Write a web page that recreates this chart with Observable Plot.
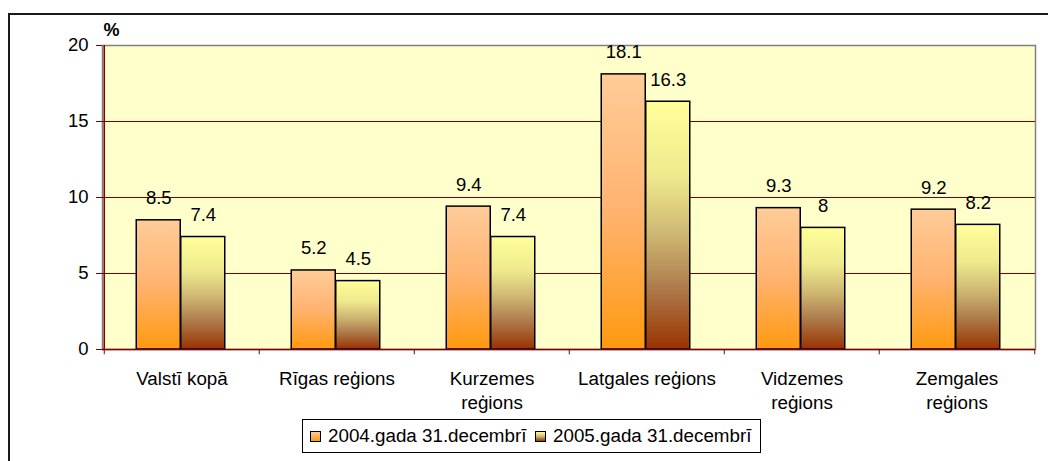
<!DOCTYPE html>
<html><head><meta charset="utf-8">
<script src="https://cdn.jsdelivr.net/npm/d3@7"></script>
<script src="https://cdn.jsdelivr.net/npm/@observablehq/plot@0.6"></script>
<style>
body{margin:0;background:#fff;font-family:"Liberation Sans",Arial,sans-serif;}
#wrap{position:relative;width:1048px;height:461px;overflow:hidden;background:#fff;}
#frame{position:absolute;left:8px;top:13px;width:1100px;height:600px;border:2px solid #1a1a1a;}
#chart{position:absolute;left:0;top:0;}
#legend{position:absolute;left:302px;top:419px;width:457px;height:32px;border:1px solid #000;background:#fff;font-size:18.8px;color:#000;}
.item{position:absolute;top:0;height:32px;line-height:32px;white-space:nowrap;}
.sw{position:absolute;width:9px;height:9px;border:1px solid #000;top:11px;}
</style></head>
<body>
<svg width="0" height="0" style="position:absolute">
  <defs>
    <linearGradient id="g2004" x1="0" y1="0" x2="0" y2="1">
      <stop offset="0" stop-color="#FFCC99"/>
      <stop offset="0.5" stop-color="#FFB370"/>
      <stop offset="1" stop-color="#FF990F"/>
    </linearGradient>
    <linearGradient id="g2005" x1="0" y1="0" x2="0" y2="1">
      <stop offset="0" stop-color="#FFFF99"/>
      <stop offset="0.3" stop-color="#EFEA8E"/>
      <stop offset="0.55" stop-color="#CCB470"/>
      <stop offset="0.75" stop-color="#AE7C4C"/>
      <stop offset="1" stop-color="#993300"/>
    </linearGradient>
  </defs>
</svg>
<div id="wrap">
  <div id="frame"></div>
  <div id="chart"></div>
  <div id="legend"></div>
</div>
<script>
const categories = ["Valstī kopā", "Rīgas reģions", "Kurzemes reģions", "Latgales reģions", "Vidzemes reģions", "Zemgales reģions"];
const categoryLabels = ["Valstī kopā", "Rīgas reģions", "Kurzemes\nreģions", "Latgales reģions", "Vidzemes\nreģions", "Zemgales\nreģions"];
const seriesNames = ["2004.gada 31.decembrī", "2005.gada 31.decembrī"];
const values2004 = [8.5, 5.2, 9.4, 18.1, 9.3, 9.2];
const values2005 = [7.4, 4.5, 7.4, 16.3, 8, 8.2];
const yTicks = [0, 5, 10, 15, 20];
const gridValues = [5, 10, 15];
const unitLabel = "%";

const data2004 = categories.map((c, i) => ({category: c, value: values2004[i]}));
const data2005 = categories.map((c, i) => ({category: c, value: values2005[i]}));
const labelOf = new Map(categories.map((c, i) => [c, categoryLabels[i]]));

const W = 1048, H = 461, ML = 102, MR = 13, MT = 45, MB = 112;
const band = (W - ML - MR) / categories.length;
const half = band / 2;
const barW = 44.5;
const font = "'Liberation Sans', Arial, sans-serif";

const chart = Plot.plot({
  width: W, height: H,
  marginLeft: ML, marginRight: MR, marginTop: MT, marginBottom: MB,
  style: {fontFamily: font, fontSize: "18px", background: "transparent", overflow: "visible", color: "#000"},
  x: {domain: categories, padding: 0},
  y: {domain: [0, 20]},
  marks: [
    Plot.frame({fill: "#FFFFCC", stroke: "#808080", strokeWidth: 1.5}),
    Plot.ruleY(gridValues, {stroke: "#800000", strokeWidth: 1}),
    Plot.barY(data2004, {x: "category", y: "value", fill: "url(#g2004)", stroke: "#000", strokeWidth: 1.5,
      insetLeft: half - barW - 1, insetRight: half + 1}),
    Plot.barY(data2005, {x: "category", y: "value", fill: "url(#g2005)", stroke: "#000", strokeWidth: 1.5,
      insetLeft: half - 1, insetRight: half - barW + 1}),
    Plot.ruleY([0], {stroke: "#800000", strokeWidth: 1.5}),
    Plot.ruleX(categories, {x: d => d, dx: -half, y1: -0.35, y2: 0, stroke: "#800000", strokeWidth: 1}),
    Plot.ruleX([categories[categories.length - 1]], {x: d => d, dx: half, y1: -0.35, y2: 0, stroke: "#800000", strokeWidth: 1}),
    Plot.ruleX([categories[0]], {x: d => d, dx: -half, y1: 0, y2: 20, stroke: "#800000", strokeWidth: 1.5}),
    Plot.axisY({ticks: yTicks, tickSize: 6, tickPadding: 8, stroke: "#800000", fill: "#000", fontSize: 18.5, label: null}),
    Plot.axisX({tickSize: 0, tickPadding: 18, fontSize: 18.8, lineHeight: 1.28, fill: "#000",
      tickFormat: d => labelOf.get(d), label: null}),
    Plot.text(data2004, {x: "category", y: "value", text: d => String(d.value), dx: -barW / 2 - 1, dy: -16,
      lineAnchor: "bottom", fontSize: 18.5, fill: "#000"}),
    Plot.text(data2005, {x: "category", y: "value", text: d => String(d.value), dx: barW / 2 - 1, dy: -16,
      lineAnchor: "bottom", fontSize: 18.5, fill: "#000"}),
    Plot.text([unitLabel], {frameAnchor: "top-left", text: d => d, dy: -10, dx: 1, textAnchor: "start",
      lineAnchor: "bottom", fontWeight: "bold", fontSize: 18, fill: "#000"})
  ]
});
document.getElementById("chart").appendChild(chart);

const legend = document.getElementById("legend");
const legendPos = [{sw: 7, tx: 25}, {sw: 232, tx: 250}];
const grads = ["linear-gradient(#FFCC99,#FF990F)", "linear-gradient(#FFFF99,#CCB470,#993300)"];
seriesNames.forEach((name, i) => {
  const sw = document.createElement("div");
  sw.className = "sw";
  sw.style.left = legendPos[i].sw + "px";
  sw.style.background = grads[i];
  legend.appendChild(sw);
  const t = document.createElement("div");
  t.className = "item";
  t.style.left = legendPos[i].tx + "px";
  t.textContent = name;
  legend.appendChild(t);
});
</script>
</body></html>
